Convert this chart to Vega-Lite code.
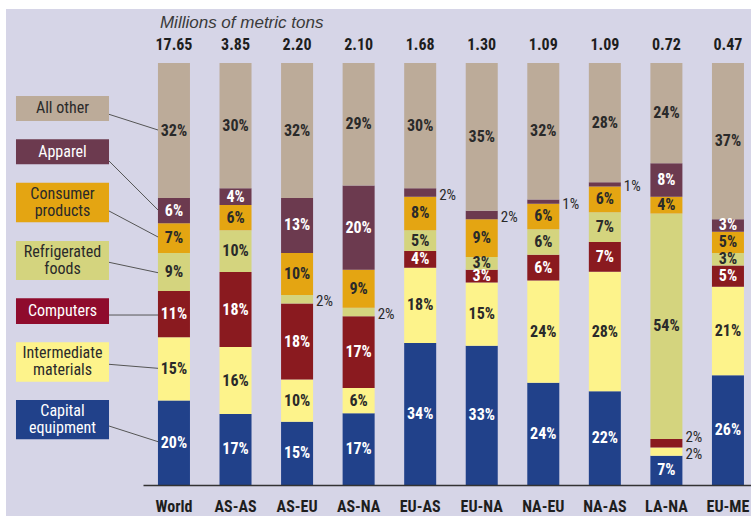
{
  "$schema": "https://vega.github.io/schema/vega-lite/v6.json",
  "width": 608,
  "height": 422,
  "autosize": {"type": "none"},
  "padding": {"left": 143, "top": 63, "right": 0, "bottom": 31},
  "background": "#ffffff",
  "config": {
    "view": {"stroke": null},
    "font": "'Noto Sans Condensed', 'Roboto Condensed', 'DejaVu Sans Condensed', sans-serif",
    "legend": {"disable": true},
    "axis": {"zindex": 1}
  },
  "datasets": {
    "bars": [
      {"route": "World", "cat": "Capital equipment", "pct": 20},
      {"route": "World", "cat": "Intermediate materials", "pct": 15},
      {"route": "World", "cat": "Computers", "pct": 11},
      {"route": "World", "cat": "Refrigerated foods", "pct": 9},
      {"route": "World", "cat": "Consumer products", "pct": 7},
      {"route": "World", "cat": "Apparel", "pct": 6},
      {"route": "World", "cat": "All other", "pct": 32},
      {"route": "AS-AS", "cat": "Capital equipment", "pct": 17},
      {"route": "AS-AS", "cat": "Intermediate materials", "pct": 16},
      {"route": "AS-AS", "cat": "Computers", "pct": 18},
      {"route": "AS-AS", "cat": "Refrigerated foods", "pct": 10},
      {"route": "AS-AS", "cat": "Consumer products", "pct": 6},
      {"route": "AS-AS", "cat": "Apparel", "pct": 4},
      {"route": "AS-AS", "cat": "All other", "pct": 30},
      {"route": "AS-EU", "cat": "Capital equipment", "pct": 15},
      {"route": "AS-EU", "cat": "Intermediate materials", "pct": 10},
      {"route": "AS-EU", "cat": "Computers", "pct": 18},
      {"route": "AS-EU", "cat": "Refrigerated foods", "pct": 2},
      {"route": "AS-EU", "cat": "Consumer products", "pct": 10},
      {"route": "AS-EU", "cat": "Apparel", "pct": 13},
      {"route": "AS-EU", "cat": "All other", "pct": 32},
      {"route": "AS-NA", "cat": "Capital equipment", "pct": 17},
      {"route": "AS-NA", "cat": "Intermediate materials", "pct": 6},
      {"route": "AS-NA", "cat": "Computers", "pct": 17},
      {"route": "AS-NA", "cat": "Refrigerated foods", "pct": 2},
      {"route": "AS-NA", "cat": "Consumer products", "pct": 9},
      {"route": "AS-NA", "cat": "Apparel", "pct": 20},
      {"route": "AS-NA", "cat": "All other", "pct": 29},
      {"route": "EU-AS", "cat": "Capital equipment", "pct": 34},
      {"route": "EU-AS", "cat": "Intermediate materials", "pct": 18},
      {"route": "EU-AS", "cat": "Computers", "pct": 4},
      {"route": "EU-AS", "cat": "Refrigerated foods", "pct": 5},
      {"route": "EU-AS", "cat": "Consumer products", "pct": 8},
      {"route": "EU-AS", "cat": "Apparel", "pct": 2},
      {"route": "EU-AS", "cat": "All other", "pct": 30},
      {"route": "EU-NA", "cat": "Capital equipment", "pct": 33},
      {"route": "EU-NA", "cat": "Intermediate materials", "pct": 15},
      {"route": "EU-NA", "cat": "Computers", "pct": 3},
      {"route": "EU-NA", "cat": "Refrigerated foods", "pct": 3},
      {"route": "EU-NA", "cat": "Consumer products", "pct": 9},
      {"route": "EU-NA", "cat": "Apparel", "pct": 2},
      {"route": "EU-NA", "cat": "All other", "pct": 35},
      {"route": "NA-EU", "cat": "Capital equipment", "pct": 24},
      {"route": "NA-EU", "cat": "Intermediate materials", "pct": 24},
      {"route": "NA-EU", "cat": "Computers", "pct": 6},
      {"route": "NA-EU", "cat": "Refrigerated foods", "pct": 6},
      {"route": "NA-EU", "cat": "Consumer products", "pct": 6},
      {"route": "NA-EU", "cat": "Apparel", "pct": 1},
      {"route": "NA-EU", "cat": "All other", "pct": 32},
      {"route": "NA-AS", "cat": "Capital equipment", "pct": 22},
      {"route": "NA-AS", "cat": "Intermediate materials", "pct": 28},
      {"route": "NA-AS", "cat": "Computers", "pct": 7},
      {"route": "NA-AS", "cat": "Refrigerated foods", "pct": 7},
      {"route": "NA-AS", "cat": "Consumer products", "pct": 6},
      {"route": "NA-AS", "cat": "Apparel", "pct": 1},
      {"route": "NA-AS", "cat": "All other", "pct": 28},
      {"route": "LA-NA", "cat": "Capital equipment", "pct": 7},
      {"route": "LA-NA", "cat": "Intermediate materials", "pct": 2},
      {"route": "LA-NA", "cat": "Computers", "pct": 2},
      {"route": "LA-NA", "cat": "Refrigerated foods", "pct": 54},
      {"route": "LA-NA", "cat": "Consumer products", "pct": 4},
      {"route": "LA-NA", "cat": "Apparel", "pct": 8},
      {"route": "LA-NA", "cat": "All other", "pct": 24},
      {"route": "EU-ME", "cat": "Capital equipment", "pct": 26},
      {"route": "EU-ME", "cat": "Intermediate materials", "pct": 21},
      {"route": "EU-ME", "cat": "Computers", "pct": 5},
      {"route": "EU-ME", "cat": "Refrigerated foods", "pct": 3},
      {"route": "EU-ME", "cat": "Consumer products", "pct": 5},
      {"route": "EU-ME", "cat": "Apparel", "pct": 3},
      {"route": "EU-ME", "cat": "All other", "pct": 37}
    ],
    "totals": [
      {"route": "World", "total": 17.65},
      {"route": "AS-AS", "total": 3.85},
      {"route": "AS-EU", "total": 2.20},
      {"route": "AS-NA", "total": 2.10},
      {"route": "EU-AS", "total": 1.68},
      {"route": "EU-NA", "total": 1.30},
      {"route": "NA-EU", "total": 1.09},
      {"route": "NA-AS", "total": 1.09},
      {"route": "LA-NA", "total": 0.72},
      {"route": "EU-ME", "total": 0.47}
    ],
    "legend": [
      {"cat": "All other", "label": "All other"},
      {"cat": "Apparel", "label": "Apparel"},
      {"cat": "Consumer products", "label": "Consumer\nproducts"},
      {"cat": "Refrigerated foods", "label": "Refrigerated\nfoods"},
      {"cat": "Computers", "label": "Computers"},
      {"cat": "Intermediate materials", "label": "Intermediate\nmaterials"},
      {"cat": "Capital equipment", "label": "Capital\nequipment"}
    ]
  },
  "layer": [
    {
      "data": {"name": "legend"},
      "transform": [{"filter": "datum.cat === 'All other'"}],
      "mark": {"type": "rect", "fill": "#d6d5e7"},
      "encoding": {
        "x": {"datum": -0.2253, "type": "quantitative", "scale": {"domain": [0, 1], "nice": false, "zero": false}, "axis": null},
        "x2": {"datum": 1.01},
        "y": {"datum": 1.128, "type": "quantitative", "axis": null},
        "y2": {"datum": -0.08}
      }
    },
    {
      "data": {"name": "bars"},
      "transform": [
        {"calculate": "indexof(['Capital equipment', 'Intermediate materials', 'Computers', 'Refrigerated foods', 'Consumer products', 'Apparel', 'All other'], datum.cat)", "as": "stack_order"}
      ],
      "layer": [
        {
          "mark": {"type": "bar"},
          "encoding": {
            "x": {
              "field": "route", "type": "nominal",
              "sort": ["World", "AS-AS", "AS-EU", "AS-NA", "EU-AS", "EU-NA", "NA-EU", "NA-AS", "LA-NA", "EU-ME"],
              "scale": {"domain": ["World", "AS-AS", "AS-EU", "AS-NA", "EU-AS", "EU-NA", "NA-EU", "NA-AS", "LA-NA", "EU-ME"], "paddingInner": 0.48, "paddingOuter": 0.1787, "align": 0.68},
              "axis": {"title": null, "labelAngle": 0, "ticks": false, "labelFontSize": 16, "labelFontWeight": "bold", "labelColor": "#1e1e1e", "labelPadding": 13, "domainColor": "#333333", "domainWidth": 1.5, "zindex": 1}
            },
            "y": {"field": "pct", "type": "quantitative", "stack": "normalize", "scale": {"domain": [0, 1], "nice": false}, "axis": null},
            "order": {"field": "stack_order", "type": "quantitative"},
            "color": {
              "field": "cat", "type": "nominal",
              "sort": ["Capital equipment", "Intermediate materials", "Computers", "Refrigerated foods", "Consumer products", "Apparel", "All other"],
              "scale": {"domain": ["Capital equipment", "Intermediate materials", "Computers", "Refrigerated foods", "Consumer products", "Apparel", "All other"], "range": ["#21418a", "#fdf38b", "#8a1a1f", "#d4d47e", "#e4a512", "#6c3a4f", "#bcab99"]},
              "legend": null
            }
          }
        },
        {
          "mark": {"type": "text", "text": {"expr": "datum.pct > 2 ? datum.pct + '%' : ''"}, "fontSize": 16, "fontWeight": "bold", "baseline": "middle"},
          "encoding": {
            "x": {"field": "route", "type": "nominal", "sort": ["World", "AS-AS", "AS-EU", "AS-NA", "EU-AS", "EU-NA", "NA-EU", "NA-AS", "LA-NA", "EU-ME"]},
            "y": {"field": "pct", "type": "quantitative", "stack": "normalize", "bandPosition": 0.5, "axis": null},
            "order": {"field": "stack_order", "type": "quantitative"},
            "color": {
              "field": "cat", "type": "nominal",
              "sort": ["Capital equipment", "Intermediate materials", "Computers", "Refrigerated foods", "Consumer products", "Apparel", "All other"],
              "scale": {"domain": ["Capital equipment", "Intermediate materials", "Computers", "Refrigerated foods", "Consumer products", "Apparel", "All other"], "range": ["#ffffff", "#2a2a2a", "#ffffff", "#2a2a2a", "#2a2a2a", "#ffffff", "#2a2a2a"]},
              "legend": null
            }
          }
        },
        {
          "mark": {"type": "text", "text": {"expr": "datum.pct <= 2 && datum.cat !== 'Computers' ? datum.pct + '%' : ''"}, "fontSize": 15, "fontWeight": "normal", "baseline": "middle", "align": "left", "dx": 19, "dy": 2},
          "encoding": {
            "x": {"field": "route", "type": "nominal", "sort": ["World", "AS-AS", "AS-EU", "AS-NA", "EU-AS", "EU-NA", "NA-EU", "NA-AS", "LA-NA", "EU-ME"]},
            "y": {"field": "pct", "type": "quantitative", "stack": "normalize", "bandPosition": 0.5, "axis": null},
            "order": {"field": "stack_order", "type": "quantitative"},
            "color": {
              "field": "cat", "type": "nominal",
              "sort": ["Capital equipment", "Intermediate materials", "Computers", "Refrigerated foods", "Consumer products", "Apparel", "All other"],
              "scale": {"domain": ["Capital equipment", "Intermediate materials", "Computers", "Refrigerated foods", "Consumer products", "Apparel", "All other"], "range": ["#2a2a2a", "#2a2a2a", "#2a2a2a", "#2a2a2a", "#2a2a2a", "#2a2a2a", "#2a2a2a"]},
              "legend": null
            }
          }
        },
        {
          "mark": {"type": "text", "text": {"expr": "datum.pct <= 2 && datum.cat === 'Computers' ? datum.pct + '%' : ''"}, "fontSize": 15, "fontWeight": "normal", "baseline": "middle", "align": "left", "dx": 19, "dy": -6},
          "encoding": {
            "x": {"field": "route", "type": "nominal", "sort": ["World", "AS-AS", "AS-EU", "AS-NA", "EU-AS", "EU-NA", "NA-EU", "NA-AS", "LA-NA", "EU-ME"]},
            "y": {"field": "pct", "type": "quantitative", "stack": "normalize", "bandPosition": 0.5, "axis": null},
            "order": {"field": "stack_order", "type": "quantitative"},
            "color": {
              "field": "cat", "type": "nominal",
              "sort": ["Capital equipment", "Intermediate materials", "Computers", "Refrigerated foods", "Consumer products", "Apparel", "All other"],
              "scale": {"domain": ["Capital equipment", "Intermediate materials", "Computers", "Refrigerated foods", "Consumer products", "Apparel", "All other"], "range": ["#2a2a2a", "#2a2a2a", "#2a2a2a", "#2a2a2a", "#2a2a2a", "#2a2a2a", "#2a2a2a"]},
              "legend": null
            }
          }
        },
        {
          "data": {"name": "totals"},
          "mark": {"type": "text", "dy": -18, "fontSize": 16, "fontWeight": "bold", "color": "#1e1e1e", "baseline": "middle"},
          "encoding": {
            "x": {"field": "route", "type": "nominal", "sort": ["World", "AS-AS", "AS-EU", "AS-NA", "EU-AS", "EU-NA", "NA-EU", "NA-AS", "LA-NA", "EU-ME"]},
            "y": {"datum": 1, "type": "quantitative", "axis": null},
            "text": {"field": "total", "type": "quantitative", "format": ".2f"}
          }
        },
        {
          "data": {"name": "totals"},
          "transform": [{"filter": "datum.route === 'World'"}],
          "mark": {"type": "text", "text": "Millions of metric tons", "dy": -40, "dx": 2, "align": "left", "baseline": "middle", "fontSize": 17, "fontStyle": "italic", "color": "#3a3a3a", "font": "Liberation Sans, Arial, sans-serif"},
          "encoding": {
            "x": {"field": "route", "type": "nominal", "bandPosition": 0},
            "y": {"datum": 1, "type": "quantitative", "axis": null}
          }
        }
      ],
      "resolve": {"scale": {"color": "independent"}}
    },
    {
      "data": {"name": "legend"},
      "layer": [
        {
          "transform": [{"filter": "datum.cat === 'All other'"}],
          "layer": [
            {"mark": {"type": "rect", "fill": "#bcab99"}, "encoding": {"x": {"datum": -0.2089, "type": "quantitative", "scale": {"domain": [0, 1], "nice": false, "zero": false}, "axis": null}, "x2": {"datum": -0.0559}, "y": {"datum": 0.9218, "type": "quantitative", "axis": null}, "y2": {"datum": 0.8626}}},
            {"mark": {"type": "text", "fontSize": 16, "fill": "#2a2a2a", "lineBreak": "\n", "lineHeight": 17, "baseline": "middle"}, "encoding": {"x": {"datum": -0.1324, "type": "quantitative", "axis": null}, "y": {"datum": 0.8922, "type": "quantitative", "axis": null}, "text": {"field": "label"}}},
            {"mark": {"type": "rule", "stroke": "#555555", "strokeWidth": 1}, "encoding": {"x": {"datum": -0.0559, "type": "quantitative", "axis": null}, "x2": {"datum": 0.0247}, "y": {"datum": 0.8784, "type": "quantitative", "axis": null}, "y2": {"datum": 0.8412}}}
          ]
        },
        {
          "transform": [{"filter": "datum.cat === 'Apparel'"}],
          "layer": [
            {"mark": {"type": "rect", "fill": "#6c3a4f"}, "encoding": {"x": {"datum": -0.2089, "type": "quantitative", "axis": null}, "x2": {"datum": -0.0559}, "y": {"datum": 0.8192, "type": "quantitative", "axis": null}, "y2": {"datum": 0.76}}},
            {"mark": {"type": "text", "fontSize": 16, "fill": "#ffffff", "lineBreak": "\n", "lineHeight": 17, "baseline": "middle"}, "encoding": {"x": {"datum": -0.1324, "type": "quantitative", "axis": null}, "y": {"datum": 0.7896, "type": "quantitative", "axis": null}, "text": {"field": "label"}}},
            {"mark": {"type": "rule", "stroke": "#555555", "strokeWidth": 1}, "encoding": {"x": {"datum": -0.0559, "type": "quantitative", "axis": null}, "x2": {"datum": 0.0247}, "y": {"datum": 0.7678, "type": "quantitative", "axis": null}, "y2": {"datum": 0.6517}}}
          ]
        },
        {
          "transform": [{"filter": "datum.cat === 'Consumer products'"}],
          "layer": [
            {"mark": {"type": "rect", "fill": "#e4a512"}, "encoding": {"x": {"datum": -0.2089, "type": "quantitative", "axis": null}, "x2": {"datum": -0.0559}, "y": {"datum": 0.7164, "type": "quantitative", "axis": null}, "y2": {"datum": 0.6225}}},
            {"mark": {"type": "text", "fontSize": 16, "fill": "#2a2a2a", "lineBreak": "\n", "lineHeight": 17, "baseline": "middle", "dy": -8.5}, "encoding": {"x": {"datum": -0.1324, "type": "quantitative", "axis": null}, "y": {"datum": 0.6694, "type": "quantitative", "axis": null}, "text": {"field": "label"}}},
            {"mark": {"type": "rule", "stroke": "#555555", "strokeWidth": 1}, "encoding": {"x": {"datum": -0.0559, "type": "quantitative", "axis": null}, "x2": {"datum": 0.0247}, "y": {"datum": 0.6493, "type": "quantitative", "axis": null}, "y2": {"datum": 0.5877}}}
          ]
        },
        {
          "transform": [{"filter": "datum.cat === 'Refrigerated foods'"}],
          "layer": [
            {"mark": {"type": "rect", "fill": "#d4d47e"}, "encoding": {"x": {"datum": -0.2089, "type": "quantitative", "axis": null}, "x2": {"datum": -0.0559}, "y": {"datum": 0.5782, "type": "quantitative", "axis": null}, "y2": {"datum": 0.4858}}},
            {"mark": {"type": "text", "fontSize": 16, "fill": "#2a2a2a", "lineBreak": "\n", "lineHeight": 17, "baseline": "middle", "dy": -8.5}, "encoding": {"x": {"datum": -0.1324, "type": "quantitative", "axis": null}, "y": {"datum": 0.532, "type": "quantitative", "axis": null}, "text": {"field": "label"}}},
            {"mark": {"type": "rule", "stroke": "#555555", "strokeWidth": 1}, "encoding": {"x": {"datum": -0.0559, "type": "quantitative", "axis": null}, "x2": {"datum": 0.0247}, "y": {"datum": 0.5277, "type": "quantitative", "axis": null}, "y2": {"datum": 0.5031}}}
          ]
        },
        {
          "transform": [{"filter": "datum.cat === 'Computers'"}],
          "layer": [
            {"mark": {"type": "rect", "fill": "#8f0b2d"}, "encoding": {"x": {"datum": -0.2089, "type": "quantitative", "axis": null}, "x2": {"datum": -0.0559}, "y": {"datum": 0.4424, "type": "quantitative", "axis": null}, "y2": {"datum": 0.3815}}},
            {"mark": {"type": "text", "fontSize": 16, "fill": "#ffffff", "lineBreak": "\n", "lineHeight": 17, "baseline": "middle"}, "encoding": {"x": {"datum": -0.1324, "type": "quantitative", "axis": null}, "y": {"datum": 0.4119, "type": "quantitative", "axis": null}, "text": {"field": "label"}}},
            {"mark": {"type": "rule", "stroke": "#555555", "strokeWidth": 1}, "encoding": {"x": {"datum": -0.0559, "type": "quantitative", "axis": null}, "x2": {"datum": 0.0247}, "y": {"datum": 0.4028, "type": "quantitative", "axis": null}, "y2": {"datum": 0.4028}}}
          ]
        },
        {
          "transform": [{"filter": "datum.cat === 'Intermediate materials'"}],
          "layer": [
            {"mark": {"type": "rect", "fill": "#fdf38b"}, "encoding": {"x": {"datum": -0.2089, "type": "quantitative", "axis": null}, "x2": {"datum": -0.0559}, "y": {"datum": 0.3382, "type": "quantitative", "axis": null}, "y2": {"datum": 0.2448}}},
            {"mark": {"type": "text", "fontSize": 16, "fill": "#2a2a2a", "lineBreak": "\n", "lineHeight": 17, "baseline": "middle", "dy": -8.5}, "encoding": {"x": {"datum": -0.1324, "type": "quantitative", "axis": null}, "y": {"datum": 0.2915, "type": "quantitative", "axis": null}, "text": {"field": "label"}}},
            {"mark": {"type": "rule", "stroke": "#555555", "strokeWidth": 1}, "encoding": {"x": {"datum": -0.0559, "type": "quantitative", "axis": null}, "x2": {"datum": 0.0247}, "y": {"datum": 0.286, "type": "quantitative", "axis": null}, "y2": {"datum": 0.2765}}}
          ]
        },
        {
          "transform": [{"filter": "datum.cat === 'Capital equipment'"}],
          "layer": [
            {"mark": {"type": "rect", "fill": "#21418a"}, "encoding": {"x": {"datum": -0.2089, "type": "quantitative", "axis": null}, "x2": {"datum": -0.0559}, "y": {"datum": 0.2014, "type": "quantitative", "axis": null}, "y2": {"datum": 0.1083}}},
            {"mark": {"type": "text", "fontSize": 16, "fill": "#ffffff", "lineBreak": "\n", "lineHeight": 17, "baseline": "middle", "dy": -8.5}, "encoding": {"x": {"datum": -0.1324, "type": "quantitative", "axis": null}, "y": {"datum": 0.1547, "type": "quantitative", "axis": null}, "text": {"field": "label"}}},
            {"mark": {"type": "rule", "stroke": "#555555", "strokeWidth": 1}, "encoding": {"x": {"datum": -0.0559, "type": "quantitative", "axis": null}, "x2": {"datum": 0.0247}, "y": {"datum": 0.1398, "type": "quantitative", "axis": null}, "y2": {"datum": 0.1026}}}
          ]
        }
      ]
    }
  ],
  "resolve": {"scale": {"x": "independent"}, "axis": {"x": "independent"}}
}
